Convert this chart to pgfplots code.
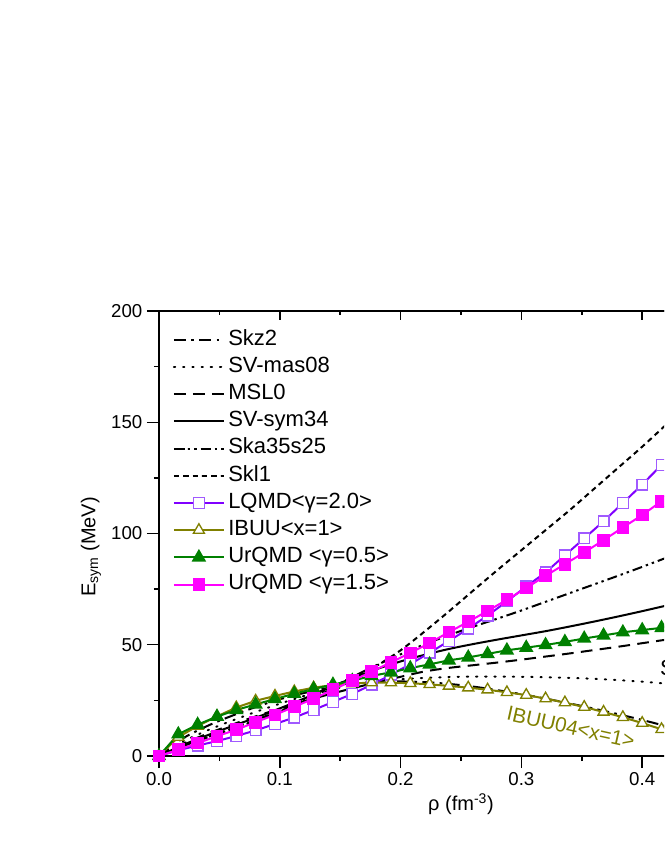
\documentclass[border=0pt]{standalone}
\usepackage{fontspec}
\setmainfont{Liberation Sans}
\usepackage{pgfplots}
\usepackage{pgfplotstable}
\pgfplotsset{compat=1.18}
\definecolor{lqmd}{RGB}{128,0,255}
\definecolor{lqmdmark}{RGB}{160,90,255}
\definecolor{ibuu}{RGB}{128,128,0}
\definecolor{urg}{RGB}{0,128,0}
\definecolor{urm}{RGB}{255,0,255}

\pgfplotstableread{
x      lqmd   urm    urg    ibuu
0      0      0      0      0
0.016  2.6    2.8    9.8    8.5
0.032  4.7    5.8    14.1   13.5
0.048  6.7    8.9    17.7   17.8
0.064  9.0    11.8   20.7   21.8
0.080  11.5   15.2   23.2   24.8
0.096  14.4   18.5   25.6   27.0
0.112  17.3   22.1   28.0   29.0
0.128  20.7   25.8   30.1   30.7
0.144  24.3   29.8   32.1   31.9
0.160  27.9   33.8   33.8   32.6
0.176  32.0   37.9   36.0   33.0
0.192  36.5   42.1   37.6   33.0
0.208  41.3   46.3   39.5   32.7
0.224  46.4   50.8   41.2   32.2
0.240  51.7   55.7   43.0   31.5
0.256  57.2   60.3   44.3   30.7
0.272  63.1   65.2   45.9   29.8
0.288  69.5   70.2   47.5   28.6
0.304  76.2   75.5   48.7   27.4
0.320  82.5   81.0   49.9   25.8
0.336  90.2   86.2   51.3   24.0
0.352  97.8   91.5   52.8   22.0
0.368  105.5  97.0   54.2   19.8
0.384  113.7  102.7  55.6   17.4
0.400  122.0  108.3  56.6   14.8
0.416  130.8  114.5  57.6   12.0
}\transport

\pgfplotstableread{
x     skz2  svmas  msl0  svsym  ska   skl1
0     0     0      0     0      0     0
0.02  8.0   6.5    5.5   5.0    4.5   4.5
0.04  13.5  11.5   10.0  9.3    8.5   8.3
0.06  18.0  15.8   14.0  13.3   12.3  12.0
0.08  22.0  19.8   17.8  17.2   16.2  15.8
0.10  25.5  23.5   21.3  21.4   20.4  20.0
0.12  28.3  27.0   24.6  25.8   25.0  24.5
0.14  30.6  30.0   27.6  30.4   30.0  29.3
0.16  32.2  32.2   30.4  35.0   35.5  34.5
0.18  33.2  33.6   33.1  39.0   40.8  40.5
0.20  33.5  34.5   35.6  42.5   45.7  47.5
0.22  33.2  35.1   38.0  45.5   50.2  56.0
0.24  32.4  35.5   39.6  48.1   54.3  65.0
0.26  31.2  35.7   40.8  50.3   58.1  74.3
0.28  29.6  35.7   42.0  52.3   61.7  83.5
0.30  27.8  35.6   43.3  54.2   65.4  92.5
0.32  25.8  35.4   44.7  56.1   69.3  101.5
0.34  23.6  35.1   46.1  58.2   73.2  110.5
0.36  21.3  34.7   47.6  60.4   77.1  120.0
0.38  18.8  34.1   49.1  62.7   81.0  129.5
0.40  16.2  33.4   50.7  65.1   85.0  139.0
0.42  13.4  32.5   52.3  67.6   89.1  149.0
0.44  10.5  31.5   53.9  70.1   93.2  159.0
}\skyrme

\begin{document}
\begin{tikzpicture}
\useasboundingbox (-119.25pt,-78pt) rectangle (378.75pt,567pt);
\clip (-119.25pt,-78pt) rectangle (378.75pt,567pt);
\begin{axis}[
  at={(0pt,0pt)}, anchor=south west,
  scale only axis, width=453pt, height=333.75pt,
  xmin=0, xmax=0.5, ymin=0, ymax=200,
  xtick={0,0.1,0.2,0.3,0.4,0.5},
  minor xtick={0.05,0.15,0.25,0.35,0.45},
  ytick={0,50,100,150,200},
  minor ytick={25,75,125,175},
  xtick pos=bottom, ytick pos=left,
  tick align=outside,
  major tick length=9pt, minor tick length=3.75pt,
  every tick/.style={black, line width=1.1pt},
  axis line style={line width=1.5pt},
  /pgf/number format/assume math mode=true,
  tick label style={font=\fontsize{14}{16}\selectfont},
  xticklabel style={/pgf/number format/.cd, fixed, fixed zerofill, precision=1},
  yticklabel style={/pgf/number format/.cd, fixed, precision=0},
  xlabel={ρ (fm\textsuperscript{-3})},
  ylabel={E\textsubscript{sym} (MeV)},
  label style={font=\fontsize{15}{18}\selectfont},
  xlabel style={at={(axis description cs:0.5,-0.108)}, anchor=center},
  ylabel style={at={(axis description cs:-0.1126,0.47)}, anchor=center},
  legend style={draw=none, fill=none, at={(axis cs:0.0113,192)}, anchor=north west,
    font=\fontsize{16.5}{19}\selectfont, inner sep=0pt, row sep=4.4pt,
    nodes={inner xsep=2.5pt, inner ysep=0pt, text height=12pt, text depth=4pt}},
  legend cell align=left,
  legend image code/.code={\draw[mark repeat=2,mark phase=2,#1] plot coordinates {(0pt,0pt) (18.75pt,0pt) (37.5pt,0pt)};},
]
\addplot[black, line width=1.5pt, dash pattern=on 9pt off 4pt on 2pt off 4pt, smooth] table[x=x,y=skz2] {\skyrme};
\addlegendentry{Skz2}
\addplot[black, line width=1.5pt, line cap=round, dash pattern=on 1pt off 5.9pt, smooth] table[x=x,y=svmas] {\skyrme};
\addlegendentry{SV-mas08}
\addplot[black, line width=1.5pt, dash pattern=on 8.75pt off 5.5pt, smooth] table[x=x,y=msl0] {\skyrme};
\addlegendentry{MSL0}
\addplot[black, line width=1.5pt, smooth] table[x=x,y=svsym] {\skyrme};
\addlegendentry{SV-sym34}
\addplot[black, line width=1.5pt, dash pattern=on 7.5pt off 3pt on 1.8pt off 3pt on 1.8pt off 3pt, smooth] table[x=x,y=ska] {\skyrme};
\addlegendentry{Ska35s25}
\addplot[black, line width=1.5pt, dash pattern=on 4pt off 3pt, smooth] table[x=x,y=skl1] {\skyrme};
\addlegendentry{Skl1}
\addplot[color=lqmd, line width=1.5pt, mark=square*, mark size=4pt,
  mark options={solid, fill=white, draw=lqmdmark, line width=1pt}] table[x=x,y=lqmd] {\transport};
\addlegendentry{LQMD<γ=2.0>}
\addplot[color=ibuu, line width=1.5pt, mark=triangle*, mark size=4.8pt,
  mark options={solid, fill=white, draw=ibuu, line width=1pt}] table[x=x,y=ibuu] {\transport};
\addlegendentry{IBUU<x=1>}
\addplot[color=urg, line width=1.5pt, mark=triangle*, mark size=4.8pt,
  mark options={solid, fill=urg, draw=urg}] table[x=x,y=urg] {\transport};
\addlegendentry{UrQMD <γ=0.5>}
\addplot[color=urm, line width=1.5pt, mark=square*, mark size=4pt,
  mark options={solid, fill=urm, draw=urm}] table[x=x,y=urm] {\transport};
\addlegendentry{UrQMD <γ=1.5>}
\node[text=ibuu, rotate=-12.6, font=\fontsize{15.5}{18}\selectfont] at (axis cs:0.341,13.0) {IBUU04<x=1>};
\node[anchor=west, font=\fontsize{16.5}{19}\selectfont, inner sep=0pt] at (axis cs:0.4147,39.6) {SV-mas08};
\end{axis}
\begin{axis}[
  at={(0pt,0pt)}, anchor=south west,
  scale only axis, width=453pt, height=333.75pt,
  xmin=0, xmax=0.5, ymin=0, ymax=200,
  axis x line*=top, axis y line=none,
  xtick={0,0.1,0.2,0.3,0.4,0.5},
  minor xtick={0.05,0.15,0.25,0.35,0.45},
  xticklabels={},
  tick align=inside,
  major tick length=6.75pt, minor tick length=3.2pt,
  every tick/.style={black, line width=1.1pt},
  axis line style={line width=1.5pt},
]
\end{axis}
\end{tikzpicture}
\end{document}
